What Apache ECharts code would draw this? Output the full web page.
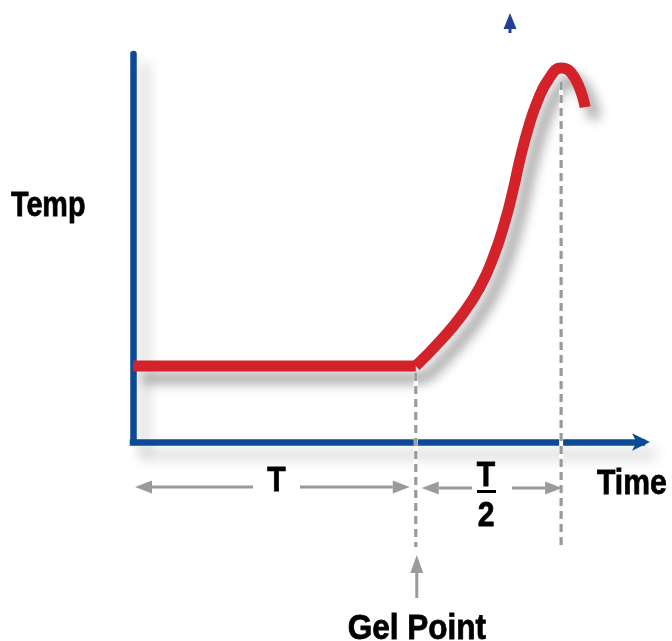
<!DOCTYPE html>
<html><head><meta charset="utf-8">
<script src="https://cdn.jsdelivr.net/npm/echarts@6/dist/echarts.min.js"></script>
<style>html,body{margin:0;padding:0;background:#fff}#c{width:672px;height:641px}</style>
</head><body><div id="c"></div>
<script>
// ---- data ----
const flatTimes = [0, 100];
const flatTemps = [19.6, 19.6];
const riseTimes = [100.0, 108.6, 116.3, 122.7, 127.7, 131.5, 134.4, 136.8, 139.7, 142.9, 146.8, 151.4, 156.0, 159.9];
const riseTemps = [19.6, 26.0, 32.7, 39.9, 48.2, 56.7, 64.9, 72.7, 80.7, 87.6, 93.3, 96.4, 94.1, 86.3];
const gelTime = 100;
const peakTime = 151.4;
const peakTemp = 96.4;
const flatTemp = 19.6;
const yAxisTitle = 'Temp';
const xAxisTitle = 'Time';
const gelLabel = 'Gel Point';
const intervalLabel = 'T';
const halfNumerator = 'T';
const halfDenominator = '2';

const chart = echarts.init(document.getElementById('c'), null, {renderer:'canvas'});
const FONTFAM = '"Liberation Sans",Arial,sans-serif';
const AXIS_BLUE = '#0b4a97';
const GRAY = '#9a9a9a';
const RED = '#d3222a';
const axisShadow = {shadowColor:'rgba(0,0,0,0.22)', shadowBlur:14, shadowOffsetX:11, shadowOffsetY:12};
const lineShadow = {shadowColor:'rgba(0,0,0,0.36)', shadowBlur:12, shadowOffsetX:10, shadowOffsetY:12};

chart.setOption({
  animation:false,
  grid:{left:133, right:30, top:54, bottom:199},
  xAxis:{type:'value', min:0, max:180,
    axisLine:{show:true, onZero:false, symbol:['none','arrow'], symbolSize:[13,18], symbolOffset:[0,8],
      lineStyle:Object.assign({color:AXIS_BLUE, width:6.5, cap:'square'}, axisShadow)},
    axisTick:{show:false}, axisLabel:{show:false}, splitLine:{show:false}},
  yAxis:{type:'value', min:0, max:100,
    axisLine:{show:true, onZero:false, lineStyle:Object.assign({color:AXIS_BLUE, width:6.5}, axisShadow)},
    axisTick:{show:false}, axisLabel:{show:false}, splitLine:{show:false}},
  series:[
    {type:'line', data: flatTimes.map((t,i)=>[t, flatTemps[i]]), showSymbol:false, symbol:'none', z:3,
      lineStyle:Object.assign({color:RED, width:11}, lineShadow)},
    {type:'line', data: riseTimes.map((t,i)=>[t, riseTemps[i]]), smooth:0.5, showSymbol:false, symbol:'none', z:4,
      lineStyle:Object.assign({color:RED, width:11}, lineShadow)}
  ]
});

const px = v => chart.convertToPixel({xAxisIndex:0}, v);
const py = v => chart.convertToPixel({yAxisIndex:0}, v);
const x0 = px(0), gx = px(gelTime), pkx = px(peakTime);
const yFlat = py(flatTemp), yPeak = py(peakTemp), yAxis0 = py(0);

function txt(text, x, y, align, size, sx){
  return {type:'text', x:x, y:y, scaleX:sx || 0.86, z:100,
    style:{x:0, y:0, text:text, fill:'#000', stroke:'#000', lineWidth:0.8, font:'bold '+size+'px '+FONTFAM,
      textAlign:align, align:align, textVerticalAlign:'middle', verticalAlign:'middle'}};
}
function hArrow(tail, tip, y){
  const dir = tip > tail ? 1 : -1, hl = 17, hw = 6.5;
  return [
    {type:'line', z:90, shape:{x1:tail, y1:y, x2:tip - dir*hl, y2:y}, style:{stroke:GRAY, lineWidth:3}},
    {type:'polygon', z:90, shape:{points:[[tip,y],[tip-dir*hl,y-hw],[tip-dir*hl,y+hw]]}, style:{fill:GRAY}}
  ];
}
function dashed(x, y1, y2){
  return [
    {type:'line', z:80, shape:{x1:x, y1:y1, x2:x, y2:y2}, style:{stroke:'#fff', lineWidth:4}},
    {type:'line', z:81, shape:{x1:x, y1:y1, x2:x, y2:y2}, style:{stroke:GRAY, lineWidth:3.2, lineDash:[8,5]}}
  ];
}
const arrowY1 = yAxis0 + 45, arrowY2 = yAxis0 + 46;
const elements = [].concat(
  dashed(gx, yFlat + 7, 547),
  dashed(pkx, yPeak + 14, 548),
  hArrow(253, x0 + 2, arrowY1),
  hArrow(300, gx - 6, arrowY1),
  hArrow(472, gx + 6, arrowY2),
  hArrow(512, pkx + 1, arrowY2),
  [
    {type:'line', z:90, shape:{x1:gx+1, y1:598, x2:gx+1, y2:571}, style:{stroke:GRAY, lineWidth:3}},
    {type:'polygon', z:90, shape:{points:[[gx+1,555],[gx-5.5,573],[gx+7.5,573]]}, style:{fill:GRAY}},
    {type:'polygon', z:90, shape:{points:[[510,13],[503.5,29],[516.5,29]]}, style:{fill:'#22409a'}},
    {type:'rect', z:90, shape:{x:508.5, y:28, width:3, height:5}, style:{fill:'#22409a'}},
    txt(yAxisTitle, 11, 206, 'left', 35, 0.82),
    txt(xAxisTitle, 597, 484, 'left', 35, 0.86),
    txt(intervalLabel, (253+300)/2, 481, 'center', 35),
    txt(halfNumerator, 486, 476, 'center', 35),
    {type:'rect', z:90, shape:{x:477, y:490, width:19, height:3}, style:{fill:'#000'}},
    txt(halfDenominator, 486, 516, 'center', 35),
    txt(gelLabel, gx + 1, 629, 'center', 35, 0.9)
  ]
);
chart.setOption({graphic:{elements:elements}});
</script>
</body></html>
